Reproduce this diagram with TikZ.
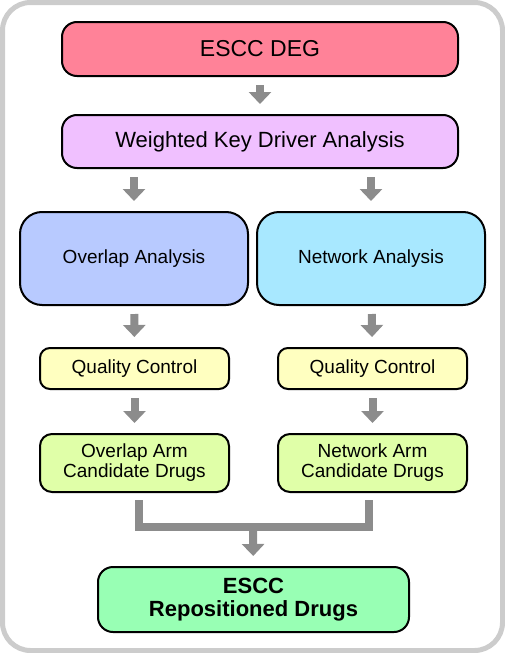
\documentclass[tikz,border=0pt]{standalone}
\usepackage{fontspec}
\setmainfont{Liberation Sans}
\usepackage{xcolor}
\usetikzlibrary{arrows.meta, calc, positioning}

\definecolor{framegray}{HTML}{CCCCCC}
\definecolor{flowgray}{HTML}{8C8C8C}
\definecolor{degpink}{HTML}{FF8298}
\definecolor{kdalilac}{HTML}{F0C0FF}
\definecolor{ovlblue}{HTML}{B8CAFF}
\definecolor{netcyan}{HTML}{A8E8FF}
\definecolor{qcyellow}{HTML}{FFFFC0}
\definecolor{candlime}{HTML}{E0FFA8}
\definecolor{finalgreen}{HTML}{98FFB4}

\begin{document}
\begin{tikzpicture}[x=1pt, y=-1pt,
    box/.style={draw, line width=2pt, align=center, inner sep=0pt},
    flow/.style={draw=flowgray, line width=8pt, shorten <=8pt, shorten >=10pt,
        -{Triangle[width=22pt, length=12pt]}},
    bar/.style={draw=flowgray, line width=8pt}]
    \useasboundingbox (0, 0) rectangle (505, 653);
    \draw[framegray, line width=5pt, rounded corners=28pt] (2.5, 2.5) rectangle (502.5, 650.5);
    \node[box, fill=degpink, rounded corners=15pt, minimum width=396pt, minimum height=54pt,
        font=\fontsize{23}{26}\selectfont] (deg) at (260, 49) {ESCC DEG};
    \node[box, fill=kdalilac, rounded corners=15pt, minimum width=396pt, minimum height=53pt,
        font=\fontsize{22}{25}\selectfont] (wkda) at (260, 141.5) {Weighted Key Driver Analysis};
    \node[box, fill=ovlblue, rounded corners=22pt, minimum width=228pt, minimum height=93pt,
        font=\fontsize{19}{20}\selectfont] (ovl) at (134, 258.5) {Overlap Analysis};
    \node[box, fill=netcyan, rounded corners=22pt, minimum width=228pt, minimum height=93pt,
        font=\fontsize{19}{20}\selectfont] (net) at (371, 258.5) {Network Analysis};
    \node[box, fill=qcyellow, rounded corners=10pt, minimum width=189pt, minimum height=41pt,
        font=\fontsize{19}{20}\selectfont] (oqc) at (134.5, 368.5) {Quality Control};
    \node[box, fill=qcyellow, rounded corners=10pt, minimum width=189pt, minimum height=41pt,
        font=\fontsize{19}{20}\selectfont] (nqc) at (372.5, 368.5) {Quality Control};
    \node[box, fill=candlime, rounded corners=12pt, minimum width=189pt, minimum height=58pt,
        font=\fontsize{19}{20}\selectfont] (ocand) at (134.5, 463) {Overlap Arm\\Candidate Drugs};
    \node[box, fill=candlime, rounded corners=12pt, minimum width=189pt, minimum height=58pt,
        font=\fontsize{19}{20}\selectfont] (ncand) at (372.5, 463) {Network Arm\\Candidate Drugs};
    \node[box, fill=finalgreen, rounded corners=15pt, minimum width=311pt, minimum height=65pt,
        font=\bfseries\fontsize{22}{23}\selectfont] (final) at (253.5, 599.5) {ESCC\\Repositioned Drugs};
    \coordinate (join) at (253, 527);
    \draw[flow] (deg) -- (wkda);
    \draw[flow] (wkda.south -| ovl) -- (ovl);
    \draw[flow] (wkda.south -| net) -- (net);
    \draw[flow] (ovl) -- (oqc);
    \draw[flow] (net) -- (nqc);
    \draw[flow] (oqc) -- (ocand);
    \draw[flow] (nqc) -- (ncand);
    \draw[bar] ([shift={(4, 7)}]ocand.south) |- (join) -| ([shift={(-4, 7)}]ncand.south);
    \draw[flow, shorten <=0pt] (join) -- (final);
\end{tikzpicture}
\end{document}
